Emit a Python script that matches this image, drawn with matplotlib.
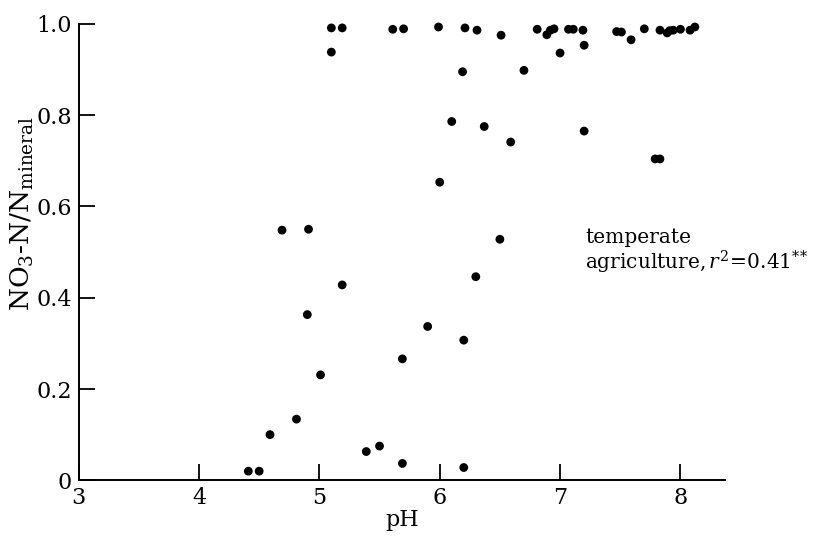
import matplotlib
matplotlib.use("Agg")
import matplotlib.pyplot as plt

# datos
ph = [4.41, 4.50, 4.59, 4.69, 4.81, 4.90, 4.91, 5.01, 5.19, 5.39, 5.50, 5.69,
      5.69, 5.90, 6.00, 6.10, 6.19, 6.20, 6.20, 6.30, 6.37, 6.50, 6.59, 6.70,
      7.20, 7.79, 7.83,
      5.10, 5.19, 5.10, 5.61, 5.70, 5.99, 6.21, 6.31, 6.51, 6.81, 6.89, 6.92,
      6.95, 7.00, 7.07, 7.11, 7.19, 7.20, 7.47, 7.51, 7.59, 7.70, 7.83, 7.89,
      7.91, 7.94, 8.00, 8.08, 8.12]
frac_no3 = [0.020, 0.020, 0.100, 0.548, 0.134, 0.363, 0.550, 0.231, 0.428, 0.063,
            0.075, 0.037, 0.266, 0.337, 0.653, 0.786, 0.895, 0.307, 0.028, 0.446,
            0.775, 0.528, 0.741, 0.898, 0.765, 0.704, 0.704,
            0.991, 0.991, 0.938, 0.988, 0.989, 0.993, 0.991, 0.986, 0.975, 0.988,
            0.976, 0.986, 0.989, 0.936, 0.988, 0.988, 0.986, 0.953, 0.983, 0.982,
            0.965, 0.989, 0.986, 0.980, 0.985, 0.986, 0.988, 0.986, 0.993]

xticks = [3, 4, 5, 6, 7, 8]
yticks = [0, 0.2, 0.4, 0.6, 0.8, 1.0]
ytick_labels = ["0", "0.2", "0.4", "0.6", "0.8", "1.0"]

plt.rcParams["font.family"] = "DejaVu Serif"
plt.rcParams["mathtext.fontset"] = "dejavuserif"

fig = plt.figure(figsize=(8.13, 5.36), dpi=100)
ax = fig.add_axes([0.0967, 0.1039, 0.795, 0.8517])

ax.scatter(ph, frac_no3, s=40, color="black", edgecolor="none", clip_on=False, zorder=3)

ax.set_xlim(3, 8.37)
ax.set_ylim(0, 1.0)
ax.set_xticks(xticks)
ax.set_yticks(yticks)
ax.set_yticklabels(ytick_labels)

for lado in ["top", "right"]:
    ax.spines[lado].set_visible(False)
for lado in ["left", "bottom"]:
    ax.spines[lado].set_linewidth(1.4)

ax.tick_params(direction="in", length=11.5, width=1.3, labelsize=16, pad=5)

ax.set_xlabel("pH", fontsize=16, labelpad=0)
ax.set_ylabel(r"NO$_3$-N/N$_{\rm mineral}$", fontsize=19)
ax.yaxis.set_label_coords(-0.066, 0.585)

# anotacion a la derecha, parte fuera de los ejes
ax.text(7.21, 0.50, "temperate\nagriculture,$\\,r^2\\!=\\!0.41^{*\\!*}$",
        fontsize=14.5, ha="left", va="center", linespacing=1.1, clip_on=False)

fig.savefig("out.png", dpi=100)
plt.close(fig)
